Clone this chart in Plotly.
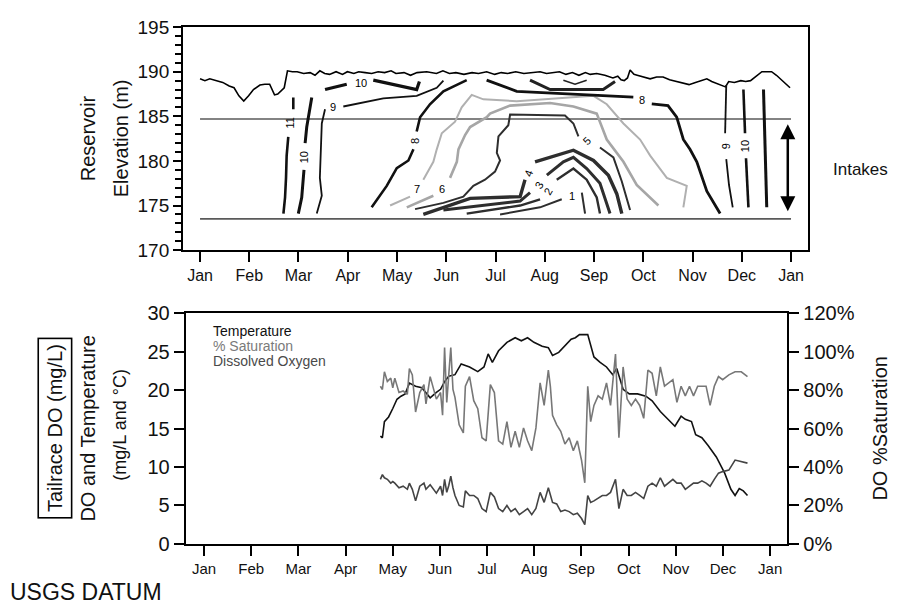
import plotly.graph_objects as go

FONT = "Liberation Sans, Arial, sans-serif"
months = ["Jan", "Feb", "Mar", "Apr", "May", "Jun", "Jul", "Aug", "Sep", "Oct", "Nov", "Dec", "Jan"]
month_pos = [0, 30.4, 60.8, 91.3, 121.7, 152.1, 182.5, 212.9, 243.3, 273.8, 304.2, 334.6, 365]
sat_ticks = [0, 20, 40, 60, 80, 100, 120]
sat_tick_text = ["0%", "20%", "40%", "60%", "80%", "100%", "120%"]

# ---------- top panel: reservoir elevation ----------
surf_day = [0, 3, 6, 10, 14, 18, 21, 24, 27, 30, 33, 37, 40, 43, 46, 48, 50, 52, 54,
            57, 60, 64, 68, 71, 74, 77, 80, 84, 88, 91, 95, 98, 102, 106, 110, 114, 118,
            121, 126, 130, 134, 140, 146, 150, 154, 158, 163, 168, 172, 177, 182, 186,
            190, 195, 200, 205, 210, 214, 218, 222, 226, 230, 234, 238, 241, 245, 250,
            255, 258, 260, 262, 264, 265.6, 268, 270, 274, 278, 282, 286, 290, 294, 298,
            302, 306, 310, 313, 316, 319, 322, 324.5, 326.5, 330, 334, 337, 340, 343,
            347, 350, 353, 356, 359, 362, 364.4]
surf_elev = [189.2, 189.0, 189.2, 189.0, 188.8, 188.4, 188.2, 187.3, 186.7, 187.3, 188.0, 188.5,
             188.6, 188.6, 187.4, 187.5, 187.8, 188.2, 190.1,
             190.0, 190.0, 189.8, 189.9, 189.6, 190.1, 189.8, 189.7, 190.0, 189.7, 190.0,
             189.8, 190.0, 189.9, 189.8, 190.0, 189.9, 190.1, 189.8, 189.9, 189.6, 189.9,
             190.0, 189.8, 190.1, 189.8, 189.9, 189.7, 189.9, 189.8, 190.0, 189.7, 189.9,
             189.8, 190.0, 189.8, 189.9, 190.0, 189.8, 189.9, 190.0, 189.7, 189.9, 189.6,
             189.9, 189.7, 189.8, 189.6, 189.3, 189.5, 189.1, 189.0, 189.3, 190.2, 189.7,
             189.6, 189.4, 189.2, 189.4, 189.4, 189.1, 188.9, 188.7, 188.55, 188.8, 189.0,
             189.2, 188.9, 188.7, 188.5, 188.3, 188.9, 188.8, 189.0, 188.9, 189.0, 189.4,
             190.0, 190.0, 190.0, 189.6, 189.1, 188.6, 188.2]

intake_day = [0, 365]
intake_top = [184.7, 184.7]
intake_bottom = [173.5, 173.5]
arrow_day = 363
arrow_top = 184.1
arrow_bottom = 174.2

# contour polylines (day, elevation); None = gap for a label
c11_d = [57.6, 57.6, None, 54.5, 53.5, 53.1, 52.5, 51.5]
c11_e = [187.1, 185.8, None, 182.7, 180.6, 178.1, 175.9, 174.1]
c10m_d = [69.0, 67.5, 65.9, 64.9, None, 64.2, 62.8, 60.7]
c10m_e = [187.1, 185.3, 183.8, 182.0, None, 179.0, 175.9, 174.1]
c9_d = [72.1, 75.2, 74.0, 74.5, 75.2, 77.2, None, 88.5, 113.2, 133.8, 146.2, 150.3]
c9_e = [174.1, 176.1, 178.1, 181.3, 184.2, 185.8, None, 186.1, 187.0, 187.3, 188.2, 189.0]
c10t_d = [77.2, 90.6, None, 107.0, 133.8, 135.5]
c10t_e = [188.0, 188.6, None, 189.05, 188.0, 188.9]
c8_d = [106.0, 115.3, 121.5, 128.7, 131.8, None, 133.8, 135.9, 142.0, 150.3, 164.7]
c8_e = [174.8, 177.2, 179.2, 180.05, 181.3, None, 183.3, 184.9, 186.35, 187.8, 189.05]
g7_d = [117.4, 129.7, None, 137.9, 144.1, 146.2, 149.3, 157.5, 161.6, 167.8, 175.0, 195.6,
        224.4, 243.0, 251.2, 261.5, 271.8, 278.0, 288.3, 300.6, 298.5]
g7_e = [175.0, 176.0, None, 177.9, 179.9, 181.3, 183.1, 184.4, 186.0, 187.4, 186.9, 186.7,
        187.1, 187.3, 186.35, 184.2, 182.4, 180.6, 178.1, 177.2, 174.8]
g6_d = [127.7, 144.1, None, 154.4, 158.6, 159.6, 163.7, 166.8, 177.1, 179.1, 191.5, 216.2,
        230.6, 245.0, 251.2, 261.5, 269.7, 283.1]
g6_e = [174.8, 176.1, None, 178.1, 179.9, 181.3, 182.9, 183.8, 184.9, 185.3, 186.2, 186.5,
        186.1, 185.3, 182.4, 179.9, 177.3, 175.0]
c5_d = [132.8, 150.3, 162.6, 168.8, 176.0, 182.2, 185.3, 183.3, 184.3, 190.4, 191.5, 225.4,
        230.6, 233.7, None, 247.0, 255.3, 260.5, 265.6]
c5_e = [174.6, 175.3, 176.0, 177.2, 177.9, 178.8, 180.05, 180.9, 182.75, 184.0, 185.2, 185.1,
        184.2, 182.75, None, 181.5, 180.4, 177.7, 174.5]
c4_d = [137.9, 162.6, 166.8, 197.7, 200.7, None, 206.9, 230.6, 243.0, 252.2, 257.4, 260.5]
c4_e = [174.0, 175.5, 175.8, 176.0, 177.9, None, 179.9, 181.2, 180.05, 178.4, 176.3, 174.1]
c3_d = [150.3, 197.7, 203.8, None, 214.2, 224.4, 230.6, 238.8, 247.0, 253.2]
c3_e = [174.5, 175.5, 176.45, None, 178.4, 179.9, 180.4, 179.15, 177.5, 174.1]
c2_d = [164.7, 197.7, 210.0, None, 220.3, 230.6, 238.8, 245.0, 247.0]
c2_e = [174.1, 175.0, 175.7, None, 177.9, 179.15, 177.9, 175.9, 174.1]
c1_d = [185.3, 210.0, 223.4, None, 235.8, 237.8]
c1_e = [174.0, 174.8, 175.7, None, 176.45, 174.1]
c8r_d = [177.0, 195.6, 267.6, None, 279.0, 289.0, 294.4, 298.5, 302.6, 306.8, 313.0, 321.2]
c8r_e = [189.05, 187.8, 187.15, None, 186.4, 186.2, 184.9, 182.4, 181.3, 179.9, 176.6, 174.1]
cb_d = [203.8, 216.2, 249.0, 256.3]
cb_e = [189.05, 188.0, 188.0, 188.9]
cv_d = [224.4, 231.6, 238.8]
cv_e = [189.05, 188.6, 189.05]
d9_d = [325.0, 324.3, None, 325.0, 326.7, 329.0]
d9_e = [188.5, 183.1, None, 180.2, 177.3, 174.8]
d10_d = [335.6, 336.6, None, 337.2, 338.7]
d10_e = [188.0, 183.1, None, 180.3, 174.8]
d3_d = [348.0, 349.0, 350.0]
d3_e = [188.0, 181.3, 174.8]

contour_labels = ["11", "10", "9", "10", "8", "7", "6", "5", "4", "3", "2", "1", "8", "9", "10"]
label_day = [55.6, 64.2, 82.3, 99.5, 133.2, 133.8, 149.3, 238.8, 203.2, 209.5, 215.1, 229.6, 272.8, 324.6, 336.2]
label_elev = [184.2, 180.4, 186.0, 188.7, 182.2, 176.8, 176.8, 182.2, 178.6, 177.3, 176.6, 176.1, 186.8, 181.6, 181.7]
label_angle = [-90, -90, 0, 0, -90, 0, 0, -45, -70, -60, -60, 0, 0, -90, -90]

# ---------- bottom panel: tailrace ----------
temp_day = [113.7, 115.0, 116.3, 119.0, 121.7, 124.4, 127.0, 129.7, 132.4, 136.4, 140.4, 143.1,
            145.8, 149.8, 152.5, 155.1, 157.8, 161.8, 165.8, 171.2, 176.5, 180.5, 183.2, 185.9,
            189.9, 195.3, 200.6, 204.6, 208.6, 212.7, 218.0, 222.0, 224.7, 228.7, 232.7, 236.7,
            239.4, 242.1, 247.4, 251.4, 255.4, 259.5, 263.5, 266.1, 270.2, 274.2, 279.5, 284.9,
            288.9, 294.2, 299.6, 303.6, 307.6, 310.3, 314.3, 317.0, 321.0, 325.0, 330.3, 335.7,
            339.7, 342.4, 345.1, 347.7, 350.4]
temp_val = [14.0, 13.8, 15.9, 16.5, 17.6, 18.8, 19.2, 19.5, 20.9, 20.5, 20.3, 19.7,
            19.0, 19.7, 20.1, 21.1, 21.8, 22.0, 23.4, 23.0, 22.4, 23.0, 24.7, 23.6,
            25.1, 26.2, 26.8, 26.4, 26.8, 26.2, 25.7, 25.5, 24.5, 24.9, 25.7, 26.6,
            26.8, 27.2, 27.2, 24.3, 23.6, 23.0, 22.0, 22.8, 20.1, 19.5, 19.5, 19.2,
            18.6, 17.2, 16.1, 15.3, 16.6, 16.2, 15.9, 14.2, 13.8, 12.8, 11.3, 9.2,
            7.1, 6.3, 7.2, 6.9, 6.3]

wq_day = [113.7, 115.0, 116.3, 118.2, 120.4, 121.7, 123.0, 125.7, 128.4, 131.1, 132.4, 134.3,
          136.4, 139.1, 141.8, 143.1, 145.8, 148.4, 149.8, 152.5, 153.8, 155.1, 156.5, 157.8,
          159.1, 160.5, 161.8, 164.5, 167.2, 168.5, 171.2, 173.9, 176.5, 179.2, 181.9, 184.6,
          187.2, 189.9, 192.6, 195.3, 197.9, 200.6, 203.3, 206.0, 208.6, 211.3, 214.0, 216.7,
          219.3, 222.0, 223.3, 224.7, 227.4, 230.0, 232.7, 235.4, 238.1, 240.7, 243.4, 245.5,
          247.4, 249.3, 251.4, 254.1, 256.8, 259.5, 262.1, 265.3, 267.5, 270.2, 272.8, 275.5,
          278.2, 280.9, 283.5, 286.2, 288.9, 291.6, 294.2, 296.9, 299.6, 302.3, 304.9, 307.6,
          310.3, 313.0, 315.6, 318.3, 321.0, 323.7, 326.3, 329.0, 331.7, 334.4, 338.4, 342.4,
          346.4, 350.4]
sat_val = [82.0, 80.3, 89.5, 84.5, 86.2, 81.2, 86.2, 78.7, 79.5, 77.8, 91.2, 87.9,
           68.6, 78.7, 82.8, 72.8, 87.0, 78.7, 75.3, 78.7, 66.9, 102.1, 73.6, 87.9,
           102.1, 80.3, 76.2, 61.9, 57.7, 82.0, 87.0, 74.5, 70.3, 55.2, 53.6, 82.8,
           78.7, 53.6, 51.9, 63.6, 50.2, 58.6, 50.2, 60.3, 53.6, 48.5, 60.3, 83.7,
           72.0, 90.4, 82.0, 66.9, 61.9, 58.6, 51.9, 55.2, 48.5, 53.6, 43.5, 31.8,
           82.0, 63.6, 72.0, 77.0, 75.3, 83.7, 72.0, 98.7, 55.2, 92.0, 75.3, 72.0,
           75.3, 72.0, 65.3, 90.4, 88.7, 77.0, 92.0, 82.0, 83.7, 85.4, 73.6, 82.0,
           77.0, 82.0, 77.0, 82.0, 82.0, 82.0, 72.0, 82.0, 87.0, 85.4, 87.9, 89.5,
           89.5, 87.0]
do_val = [8.4, 9.0, 8.6, 8.4, 7.9, 8.1, 7.9, 7.3, 7.5, 7.1, 7.9, 7.1,
          5.6, 7.5, 7.9, 7.1, 7.7, 6.9, 6.6, 7.5, 6.3, 8.4, 6.7, 7.6,
          8.8, 7.3, 6.3, 5.0, 4.8, 6.9, 6.3, 6.3, 5.9, 4.6, 4.2, 6.7,
          6.1, 4.6, 4.2, 5.0, 4.2, 4.6, 3.8, 4.2, 4.6, 3.8, 4.6, 6.7,
          5.4, 7.3, 6.3, 5.4, 5.2, 4.2, 4.4, 4.2, 3.8, 4.0, 3.3, 2.5,
          6.3, 5.4, 5.6, 5.9, 6.3, 6.3, 6.7, 8.4, 4.6, 7.1, 6.3, 6.3,
          6.7, 6.3, 5.9, 7.5, 7.9, 7.5, 8.6, 7.5, 7.9, 8.4, 7.9, 7.9,
          7.1, 7.5, 7.9, 7.9, 8.2, 7.9, 7.5, 8.4, 9.2, 9.4, 9.6, 10.9,
          10.7, 10.5]

fig = go.Figure()


def line(x, y, color, width, xa="x", ya="y"):
    fig.add_trace(go.Scatter(x=x, y=y, mode="lines", xaxis=xa, yaxis=ya,
                             line=dict(color=color, width=width), connectgaps=False,
                             hoverinfo="skip", showlegend=False))


# top panel
line(intake_day, intake_top, "#5a5a5a", 1.6)
line(intake_day, intake_bottom, "#5a5a5a", 1.6)
line(surf_day, surf_elev, "#000000", 1.6)
for xd, ye, col, w in [
    (c11_d, c11_e, "#111111", 2.6), (c10m_d, c10m_e, "#111111", 3.0), (c9_d, c9_e, "#111111", 1.8),
    (c10t_d, c10t_e, "#111111", 3.2), (c8_d, c8_e, "#111111", 2.6),
    (g7_d, g7_e, "#b0b0b0", 2.0), (g6_d, g6_e, "#a6a6a6", 2.6),
    (c5_d, c5_e, "#2e2e2e", 2.0), (c4_d, c4_e, "#2e2e2e", 3.4), (c3_d, c3_e, "#2e2e2e", 3.0),
    (c2_d, c2_e, "#2e2e2e", 2.4), (c1_d, c1_e, "#2e2e2e", 2.0),
    (c8r_d, c8r_e, "#111111", 2.8), (cb_d, cb_e, "#222222", 3.0), (cv_d, cv_e, "#222222", 1.6),
    (d9_d, d9_e, "#111111", 1.8), (d10_d, d10_e, "#111111", 2.6), (d3_d, d3_e, "#111111", 3.0)]:
    line(xd, ye, col, w)

# bottom panel
line(temp_day, temp_val, "#111111", 1.6, "x2", "y2")
line(wq_day, do_val, "#444444", 1.6, "x2", "y2")
line(wq_day, sat_val, "#777777", 1.6, "x2", "y3")

annotations = []
for t, xd, ye, ang in zip(contour_labels, label_day, label_elev, label_angle):
    annotations.append(dict(x=xd, y=ye, xref="x", yref="y", text=t, showarrow=False,
                            textangle=ang, font=dict(family=FONT, size=11, color="#000000")))
annotations.append(dict(x=arrow_day, y=arrow_top, ax=arrow_day, ay=arrow_bottom,
                        xref="x", yref="y", axref="x", ayref="y", text="", showarrow=True,
                        arrowhead=2, startarrowhead=2, arrowside="end+start",
                        arrowsize=1.2, startarrowsize=1.2, arrowwidth=2.5, arrowcolor="#000000"))


def txt(x, y, s, size, angle=0, xanchor="center", color="#111111", **kw):
    annotations.append(dict(x=x, y=y, xref="paper", yref="paper", text=s, showarrow=False,
                            textangle=angle, xanchor=xanchor, yanchor="middle",
                            font=dict(family=FONT, size=size, color=color), **kw))


txt(0.0979, 0.7857, "Reservoir", 20, -90)
txt(0.1346, 0.7857, "Elevation (m)", 20, -90)
txt(0.924, 0.7338, "Intakes", 17, 0, "left")
txt(0.0612, 0.297, "Tailrace DO (mg/L)", 20, -90, bordercolor="#000000", borderwidth=1.6, borderpad=5)
txt(0.0979, 0.297, "DO and Temperature", 20, -90)
txt(0.1335, 0.3036, "(mg/L and °C)", 18, -90)
txt(0.9789, 0.297, "DO %Saturation", 20, -90)
txt(0.009, 0.0227, "USGS DATUM", 23, 0, "left")
txt(0.2352, 0.4615, "Temperature", 14, 0, "left", "#111111")
txt(0.2352, 0.4355, "% Saturation", 14, 0, "left", "#7a7a7a")
txt(0.2352, 0.4102, "Dissolved Oxygen", 14, 0, "left", "#4a4a4a")

axis_common = dict(showgrid=False, zeroline=False, showline=True, linecolor="#000000",
                   linewidth=2, ticks="outside", tickcolor="#000000", tickwidth=2)

fig.update_layout(
    width=899, height=616, margin=dict(l=0, r=0, t=0, b=0),
    paper_bgcolor="white", plot_bgcolor="white", showlegend=False,
    font=dict(family=FONT, color="#111111"),
    annotations=annotations,
    xaxis=dict(domain=[0.2036, 0.8988], range=[-10.5, 375.5], anchor="y", mirror=True,
               tickvals=month_pos, ticktext=months, ticklen=10,
               tickfont=dict(family=FONT, size=16), **axis_common),
    yaxis=dict(domain=[0.5974, 0.9729], range=[170, 195], anchor="x", mirror=True,
               tickvals=[170, 175, 180, 185, 190, 195], ticklen=8,
               minor=dict(dtick=1, ticks="outside", ticklen=6, tickwidth=2, tickcolor="#000000"),
               tickfont=dict(family=FONT, size=19), **axis_common),
    xaxis2=dict(domain=[0.2066, 0.8758], range=[-11.8, 376.1], anchor="y2", mirror=True,
                tickvals=month_pos, ticktext=months, ticklen=10,
                tickfont=dict(family=FONT, size=15), **axis_common),
    yaxis2=dict(domain=[0.1028, 0.4914], range=[0, 30], anchor="x2",
                tickvals=[0, 5, 10, 15, 20, 25, 30], ticklen=10,
                tickfont=dict(family=FONT, size=20), **axis_common),
    yaxis3=dict(domain=[0.1028, 0.4914], range=[0, 120], anchor="x2", overlaying="y2", side="right",
                tickvals=sat_ticks, ticktext=sat_tick_text, ticklen=10,
                tickfont=dict(family=FONT, size=20), **axis_common),
)

fig.write_html("out.html", config={"displayModeBar": False},
               post_script="document.body.style.margin='0';document.body.style.padding='0';")
